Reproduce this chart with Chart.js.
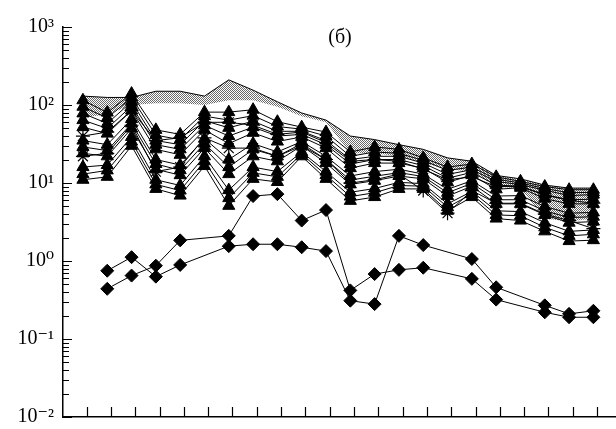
<!DOCTYPE html>
<html>
<head>
<meta charset="utf-8">
<script src="https://cdn.jsdelivr.net/npm/chart.js@4.4.0/dist/chart.umd.min.js"></script>
<style>
html,body{margin:0;padding:0;background:#fff}
#wrap{width:616px;height:429px}
</style>
</head>
<body>
<div id="wrap"><canvas id="c" width="616" height="429"></canvas></div>
<script>
// sample columns (22 positions on the x axis, no labels shown)
const columns = ['1','2','3','4','5','6','7','8','9','10','11','12','13','14','15','16','17','18','19','20','21','22'];

// upper envelope of the shaded band and its lower edge
const envelope  = [130,125,125,150,150,130,210,155,110,79,64,40,36,31,27,21,19,12.5,11.3,9.4,8.6,8.6];
const bandLower = [70,75,100,105,105,100,115,115,95,72,60,24,24,22,18,15,14,9,8.5,3.5,3.2,3.5];

// triangle series, top to bottom
const tri1  = [115,80,140,48,42,81,81,87,61,52,45,25,29,27,21,16,17.5,12,10.5,9,8.2,8.2];
const tri1a = [95,68,125,41,36,72,64,73,53,49,40,22,25,24,19.5,14.5,16,11.2,10,8.5,7.5,7.6];
const tri2  = [78,58,110,35,31,63,51,62,46,46,35,20,22,22,18,12.9,14.8,10.5,9.5,8.1,6.9,7.1];
const tri2a = [64,50,97,31,27,55,40,52,40,42,31,17.5,20,20,16.7,11.5,13.7,9.4,9.1,7.1,6.1,6.2];
const tri3  = [52,43,85,27,23,48,32,44,34,39,28,15.5,18,18,15.5,10.2,12.6,8.3,8.7,6.3,5.4,5.4];
const tri4  = [35,31,66,20,17,37,20,32,25,34,22,12.3,14,15,13,8.3,10.7,6.8,6.9,5,4.1,4.2];
const tri4a = [29,26,58,17.5,14.6,32,16,27,22,32,20,10.9,12.2,13.6,12.1,7.5,9.9,6.1,6.1,4.4,3.6,3.7];
const tri5  = [24,22,50,15,12.6,28,13,22,19,30,18,9.6,10.7,12.3,11.3,6.8,9.1,5.4,5.4,3.9,3.1,3.2];
const tri6  = [16,17,39,11,9.3,22,8.1,16,14,25,14,7.6,8.5,10.2,9.8,5.4,7.8,4.4,4.3,3.1,2.4,2.5];
const tri6a = [13,14.5,34,9.6,8,19,6.4,13.5,12,23.5,12.6,6.7,7.5,9.3,9.1,4.9,7.2,3.9,3.8,2.7,2.1,2.2];
const tri7  = [11,12,30,8.4,6.9,16.5,5.1,11.3,10.3,22,11.3,5.9,6.6,8.4,8.4,4.4,6.6,3.5,3.3,2.4,1.8,1.85];

// asterisk series
const star1 = [40,45,85,35,38,60,60,55,42,45,33,19,20,19,15,11,12,9,9,7,6,5.5];
const star2 = [22,24,55,14,16,38,28,28,22,30,20,10,11,13,8,4.1,8,5.5,5.5,4,3.3,2.6];

// diamond series (null = no point)
const diamondA = [null,0.75,1.12,0.63,0.89,null,1.55,1.64,1.64,1.5,1.34,0.31,0.28,2.1,1.6,null,1.06,0.46,null,0.27,0.21,0.23];
const diamondB = [null,0.44,0.65,0.87,1.84,null,2.1,6.8,7.2,3.3,4.5,0.42,0.68,0.77,0.82,null,0.59,0.32,null,0.22,0.19,0.19];

// y tick exponents
const yExponents = [-2,-1,0,1,2,3];

const toPts = arr => arr.map((v,i)=>({x:i, y:v}));
const SUP = {'0':'⁰','1':'¹','2':'²','3':'³','-':'⁻'};
const SERIF = "'Liberation Serif','DejaVu Serif','Times New Roman',serif";

// dithered grey like the scanned shading
const pc = document.createElement('canvas'); pc.width=2; pc.height=2;
const pctx = pc.getContext('2d');
pctx.fillStyle='#ffffff'; pctx.fillRect(0,0,2,2);
pctx.fillStyle='#6a6a6a'; pctx.fillRect(0,0,1,1); pctx.fillRect(1,1,1,1);
const ctx = document.getElementById('c').getContext('2d');
const hatch = ctx.createPattern(pc,'repeat');

const lineDs = (arr, style, r) => ({
  data: toPts(arr), borderColor:'#000', borderWidth:1,
  pointStyle: style, pointRadius: r, pointBackgroundColor:'#000', pointBorderColor:'#000',
  pointBorderWidth: 1, spanGaps:true, order:1
});

const datasets = [
  {data: toPts(envelope), borderColor:'#000', borderWidth:1, pointRadius:0, fill:'+1', backgroundColor:hatch, order:20},
  {data: toPts(bandLower), borderColor:'rgba(0,0,0,0)', borderWidth:0, pointRadius:0, fill:false, order:21}
];
[tri1,tri1a,tri2,tri2a,tri3,tri4,tri4a,tri5,tri6,tri6a,tri7].forEach(t=>datasets.push(lineDs(t,'triangle',7)));
datasets.push(Object.assign(lineDs(star1,'star',7),{pointBorderWidth:1.2}));
datasets.push(Object.assign(lineDs(star2,'star',7),{pointBorderWidth:1.2}));
datasets.push(lineDs(diamondA,'rectRot',6.5));
datasets.push(lineDs(diamondB,'rectRot',6.5));

// inward tick marks + panel title
const decor = {
  id:'decor',
  afterDraw(chart){
    const c = chart.ctx, xs = chart.scales.x, ys = chart.scales.y, a = chart.chartArea;
    c.save();
    c.strokeStyle='#000'; c.lineWidth=1.2;
    c.beginPath();
    yExponents.forEach(e=>{
      const y = Math.round(ys.getPixelForValue(Math.pow(10,e)))+0.5;
      c.moveTo(a.left, y); c.lineTo(a.left+9, y);
      if (e < 3) for (let k=2;k<=9;k++){
        const yy = Math.round(ys.getPixelForValue(k*Math.pow(10,e)))+0.5;
        c.moveTo(a.left, yy); c.lineTo(a.left+6, yy);
      }
    });
    columns.forEach((_,i)=>{
      const x = Math.round(xs.getPixelForValue(i+0.15))+0.5;
      c.moveTo(x, a.bottom); c.lineTo(x, a.bottom-10);
    });
    c.stroke();
    c.fillStyle='#000'; c.font='20px '+SERIF; c.textAlign='center'; c.textBaseline='middle';
    c.fillText('(б)', 340, 38);
    c.restore();
  }
};

new Chart(ctx, {
  type:'line',
  data:{labels:columns, datasets},
  options:{
    responsive:false, animation:false, devicePixelRatio:1,
    layout:{autoPadding:false, padding:{top:27,right:0,bottom:12,left:0}},
    plugins:{legend:{display:false}, tooltip:{enabled:false}},
    scales:{
      x:{type:'linear', min:-0.82, max:21.93,
         ticks:{display:false}, grid:{display:false, drawTicks:false, tickLength:0},
         border:{display:true, color:'#000', width:1.5},
         afterFit(s){ s.height = 0; s.paddingLeft = 0; s.paddingRight = 0; }},
      y:{type:'logarithmic', min:0.01, max:1000,
         afterBuildTicks(s){ s.ticks = yExponents.map(e=>({value:Math.pow(10,e)})); },
         ticks:{color:'#000', padding:9, font:{family:SERIF, size:20},
           callback(v){ const e = Math.round(Math.log10(v)); return '10' + String(e).split('').map(ch=>SUP[ch]).join(''); }},
         grid:{display:false, drawTicks:false, tickLength:0},
         border:{display:true, color:'#000', width:1.5},
         afterFit(s){ s.width = 63; s.paddingTop = 0; s.paddingBottom = 0; }}
    }
  },
  plugins:[decor]
});
</script>
</body>
</html>
